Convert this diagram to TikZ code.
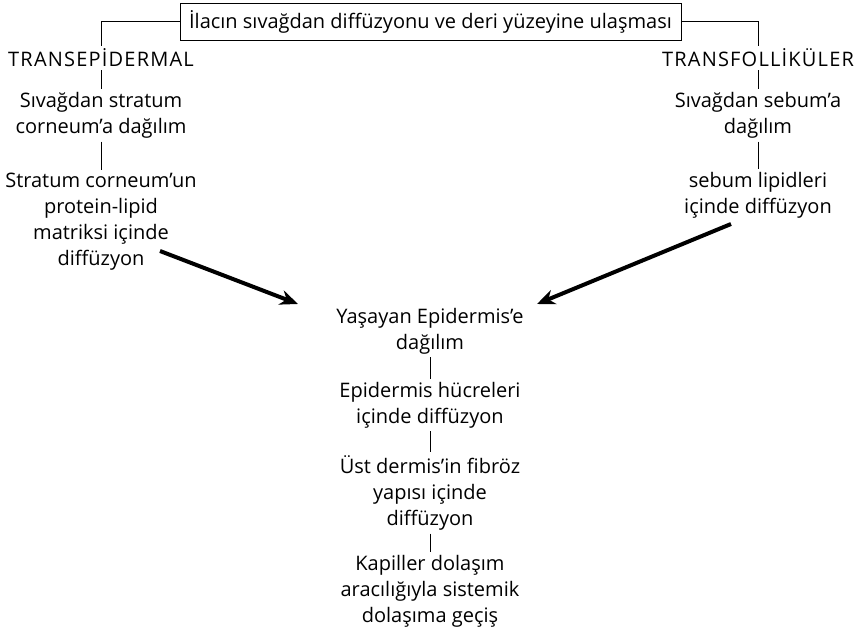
\documentclass[tikz,border=0pt]{standalone}
\usepackage{fontspec}
\setmainfont{Open Sans}
\usetikzlibrary{arrows.meta,calc}
\begin{document}
\begin{tikzpicture}[x=1pt,y=-1pt,
  txt/.style={align=center,inner sep=3pt,font=\fontsize{20}{26}\selectfont},
  caps/.style={txt,font=\fontsize{20}{26}\selectfont\addfontfeature{LetterSpace=6}},
  topbox/.style={draw,line width=1pt,minimum width=501pt,minimum height=37pt,inner sep=0pt,font=\fontsize{20}{26}\selectfont},
  conn/.style={line width=1pt},
  bigarrow/.style={line width=4pt,-{Stealth[length=18pt,width=15pt]}}]
\useasboundingbox (0,0) rectangle (859,628);
\node[topbox] (top) at (430.5,22) {İlacın sıvağdan diffüzyonu ve deri yüzeyine ulaşması};
\node[caps] (tep) at (101,58) {TRANSEPİDERMAL};
\node[txt] (l1) at (101,115.5) {Sıvağdan stratum\\corneum’a dağılım};
\node[txt] (l2) at (101,221.5) {Stratum corneum’un\\protein-lipid\\matriksi içinde\\diffüzyon};
\node[caps] (tf) at (758,58) {TRANSFOLLİKÜLER};
\node[txt] (r1) at (758,115.5) {Sıvağdan sebum’a\\dağılım};
\node[txt] (r2) at (758,195) {sebum lipidleri\\içinde diffüzyon};
\node[txt] (c1) at (430,331) {Yaşayan Epidermis’e\\dağılım};
\node[txt] (c2) at (430,405) {Epidermis hücreleri\\içinde diffüzyon};
\node[txt] (c3) at (430,493) {Üst dermis’in fibröz\\yapısı içinde\\diffüzyon};
\node[txt] (c4) at (430,591) {Kapiller dolaşım\\aracılığıyla sistemik\\dolaşıma geçiş};
\coordinate (a1s) at (160,251);
\coordinate (a1e) at (298,304);
\coordinate (a2s) at (731,224);
\coordinate (a2e) at (537,304);
\draw[conn] (top.west) -| (tep.north);
\draw[conn] (top.east) -| (tf.north);
\draw[conn] (tep.south) -- (l1.north);
\draw[conn] (l1.south) -- (l2.north);
\draw[conn] (tf.south) -- (r1.north);
\draw[conn] (r1.south) -- (r2.north);
\draw[conn] (c1.south) -- (c2.north);
\draw[conn] (c2.south) -- (c3.north);
\draw[conn] (c3.south) -- (c4.north);
\draw[bigarrow] (a1s) -- (a1e);
\draw[bigarrow] (a2s) -- (a2e);
\end{tikzpicture}
\end{document}
